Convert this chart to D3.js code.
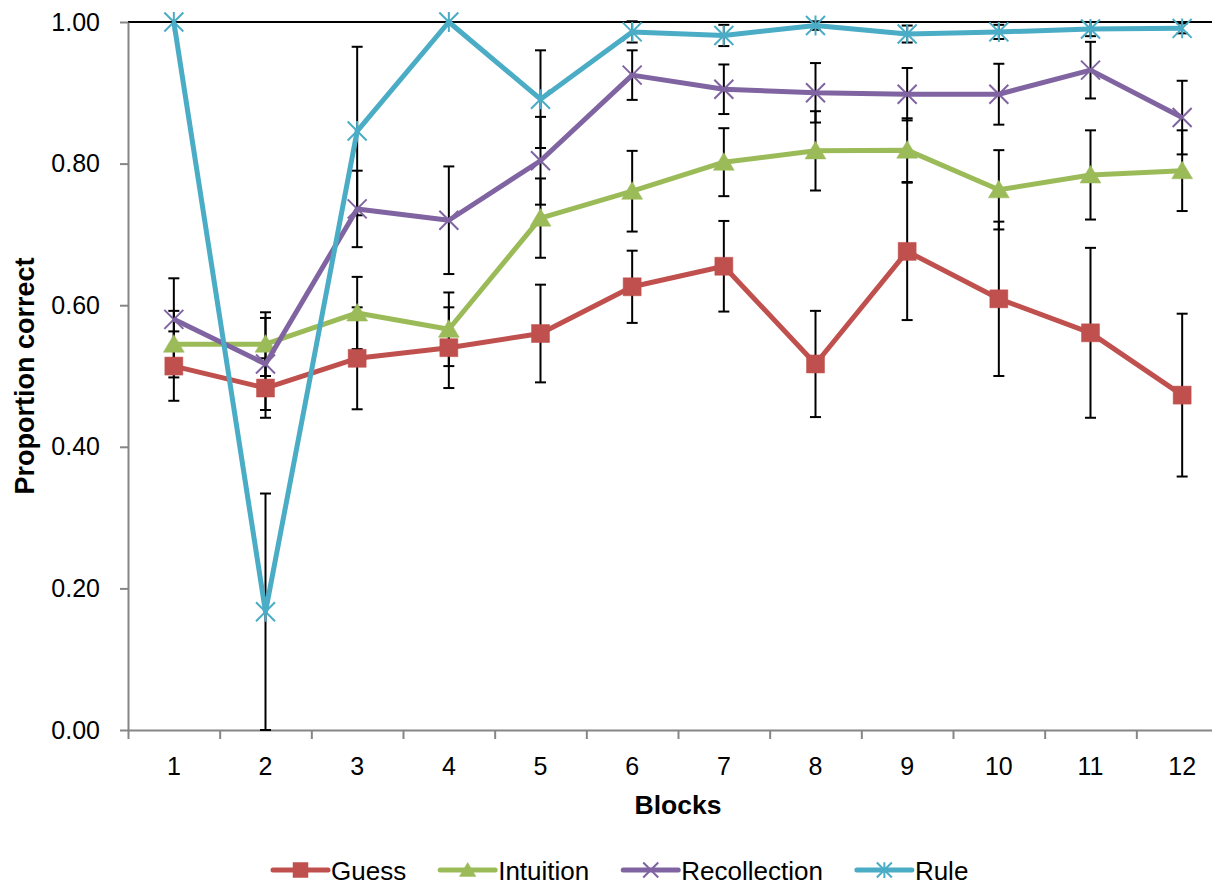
<!DOCTYPE html>
<html>
<head>
<meta charset="utf-8">
<script src="https://cdn.jsdelivr.net/npm/d3@7"></script>
<style>
  html, body { margin: 0; padding: 0; background: #fff; }
  svg { display: block; font-family: "Liberation Sans", Arial, sans-serif; }
</style>
</head>
<body>
<svg id="chart" width="1212" height="886"></svg>
<script>
// Proportion correct per block, by response type (mean ± error)
const blocks = [1, 2, 3, 4, 5, 6, 7, 8, 9, 10, 11, 12];
const yTicks = [0, 0.2, 0.4, 0.6, 0.8, 1.0];

const guess          = [0.514, 0.483, 0.525, 0.540, 0.560, 0.626, 0.655, 0.517, 0.676, 0.609, 0.561, 0.473];
const guessErr       = [0.049, 0.042, 0.072, 0.057, 0.069, 0.051, 0.064, 0.075, 0.097, 0.109, 0.120, 0.115];
const intuition      = [0.545, 0.545, 0.589, 0.566, 0.723, 0.761, 0.802, 0.818, 0.819, 0.763, 0.784, 0.790];
const intuitionErr   = [0.047, 0.045, 0.051, 0.052, 0.056, 0.057, 0.048, 0.056, 0.045, 0.056, 0.063, 0.057];
const recollection   = [0.580, 0.517, 0.736, 0.720, 0.804, 0.925, 0.905, 0.900, 0.898, 0.898, 0.932, 0.865];
const recollectionErr= [0.058, 0.065, 0.054, 0.076, 0.062, 0.035, 0.035, 0.042, 0.037, 0.043, 0.040, 0.052];
const rule           = [1.000, 0.167, 0.846, 1.000, 0.891, 0.986, 0.981, 0.995, 0.983, 0.986, 0.990, 0.991];
const ruleErr        = [0.000, 0.167, 0.119, 0.000, 0.069, 0.015, 0.015, 0.006, 0.012, 0.010, 0.010, 0.007];

const seriesNames = ["Guess", "Intuition", "Recollection", "Rule"];
const seriesColors = ["#C0504D", "#9BBB59", "#8064A2", "#4BACC6"];
const seriesMarkers = ["square", "triangle", "times", "star"];

const series = [
  { name: seriesNames[0], values: guess, errors: guessErr },
  { name: seriesNames[1], values: intuition, errors: intuitionErr },
  { name: seriesNames[2], values: recollection, errors: recollectionErr },
  { name: seriesNames[3], values: rule, errors: ruleErr }
].map((s, i) => ({ ...s, color: seriesColors[i], marker: seriesMarkers[i] }));

const svg = d3.select("#chart");

const plot = { left: 128, right: 1228, top: 22, bottom: 730 };

const x = d3.scaleBand().domain(blocks).range([plot.left, plot.right]).padding(0);
const xEdge = d3.scaleLinear().domain([0, blocks.length]).range([plot.left, plot.right]);
const y = d3.scaleLinear().domain([0, 1]).range([plot.bottom, plot.top]);
const cx = b => x(b) + x.bandwidth() / 2;

// Marker shapes
function markerPath(type, s) {
  const p = d3.path();
  const h = s / 2;
  if (type === "square") {
    p.rect(-h, -h, s, s);
  } else if (type === "triangle") {
    p.moveTo(0, -h);
    p.lineTo(h * 1.1, h * 0.85);
    p.lineTo(-h * 1.1, h * 0.85);
    p.closePath();
  } else if (type === "times") {
    p.moveTo(-h, -h); p.lineTo(h, h);
    p.moveTo(h, -h); p.lineTo(-h, h);
  } else if (type === "star") {
    p.moveTo(-h, -h); p.lineTo(h, h);
    p.moveTo(h, -h); p.lineTo(-h, h);
    p.moveTo(0, -h * 1.05); p.lineTo(0, h * 1.05);
  }
  return p.toString();
}
const filledMarker = t => t === "square" || t === "triangle";

function drawMarker(g, type, color, size) {
  g.append("path")
    .attr("d", markerPath(type, size))
    .attr("fill", filledMarker(type) ? color : "none")
    .attr("stroke", color)
    .attr("stroke-width", filledMarker(type) ? 0.5 : 2);
}

// Top border of the plot area
svg.append("line")
  .attr("x1", plot.left).attr("x2", plot.right)
  .attr("y1", y(1)).attr("y2", y(1))
  .attr("stroke", "#000").attr("stroke-width", 2);

// Y axis
const yAxis = svg.append("g")
  .attr("transform", `translate(${plot.left},0)`)
  .call(d3.axisLeft(y).tickValues(yTicks).tickFormat(d3.format(".2f"))
    .tickSizeInner(8).tickSizeOuter(0).tickPadding(20));
yAxis.select(".domain").attr("stroke", "#868686").attr("stroke-width", 2);
yAxis.selectAll(".tick line").attr("stroke", "#868686").attr("stroke-width", 2);
yAxis.selectAll(".tick text")
  .attr("font-family", "Liberation Sans, Arial, sans-serif")
  .attr("font-size", 25).attr("fill", "#000");

// X axis: boundary tick marks
const xTicksAxis = svg.append("g")
  .attr("transform", `translate(0,${plot.bottom})`)
  .call(d3.axisBottom(xEdge).tickValues(d3.range(0, blocks.length + 1))
    .tickFormat("").tickSizeInner(9).tickSizeOuter(0));
xTicksAxis.select(".domain").attr("stroke", "#868686").attr("stroke-width", 2);
xTicksAxis.selectAll(".tick line").attr("stroke", "#868686").attr("stroke-width", 2);

// X axis: category labels at band centres
const xLabels = svg.append("g")
  .attr("transform", `translate(0,${plot.bottom})`)
  .call(d3.axisBottom(x).tickSize(0).tickPadding(27));
xLabels.select(".domain").remove();
xLabels.selectAll(".tick text")
  .attr("font-family", "Liberation Sans, Arial, sans-serif")
  .attr("font-size", 25).attr("fill", "#000");

// Axis titles
svg.append("text")
  .attr("x", (plot.left + plot.right) / 2).attr("y", 814)
  .attr("text-anchor", "middle")
  .attr("font-size", 26.5).attr("font-weight", "bold")
  .text("Blocks");

svg.append("text")
  .attr("transform", `translate(34,${(plot.top + plot.bottom) / 2}) rotate(-90)`)
  .attr("text-anchor", "middle")
  .attr("font-size", 27).attr("font-weight", "bold")
  .text("Proportion correct");

// Error bars
const capW = 11;
const errG = svg.append("g").attr("stroke", "#000").attr("stroke-width", 2);
series.forEach(s => {
  blocks.forEach((b, i) => {
    const e = s.errors[i];
    if (!e) return;
    const lo = Math.max(0, s.values[i] - e);
    const hi = s.values[i] + e;
    const px = cx(b);
    errG.append("line").attr("x1", px).attr("x2", px).attr("y1", y(lo)).attr("y2", y(hi));
    errG.append("line").attr("x1", px - capW / 2).attr("x2", px + capW / 2).attr("y1", y(lo)).attr("y2", y(lo));
    errG.append("line").attr("x1", px - capW / 2).attr("x2", px + capW / 2).attr("y1", y(hi)).attr("y2", y(hi));
  });
});

// Series lines and markers
const line = d3.line().x(d => cx(d.b)).y(d => y(d.v));
series.forEach(s => {
  const pts = blocks.map((b, i) => ({ b, v: s.values[i] }));
  svg.append("path")
    .datum(pts)
    .attr("d", line)
    .attr("fill", "none")
    .attr("stroke", s.color)
    .attr("stroke-width", 5)
    .attr("stroke-linejoin", "round");
  const mg = svg.append("g");
  pts.forEach(p => {
    const g = mg.append("g").attr("transform", `translate(${cx(p.b)},${y(p.v)})`);
    drawMarker(g, s.marker, s.color, s.marker === "square" ? 18 : 19);
  });
});

// Legend
const legend = svg.append("g").attr("transform", "translate(273,870)");
let lx = 0;
series.forEach(s => {
  const item = legend.append("g").attr("transform", `translate(${lx},0)`);
  item.append("line")
    .attr("x1", 0).attr("x2", 55).attr("y1", 0).attr("y2", 0)
    .attr("stroke", s.color).attr("stroke-width", 5).attr("stroke-linecap", "round");
  const mk = item.append("g").attr("transform", "translate(27.5,0)");
  drawMarker(mk, s.marker, s.color, 15);
  const t = item.append("text")
    .attr("x", 58).attr("y", 9.5)
    .attr("font-size", 26).attr("fill", "#000")
    .text(s.name);
  lx += 58 + t.node().getComputedTextLength() + 34;
});
</script>
</body>
</html>
